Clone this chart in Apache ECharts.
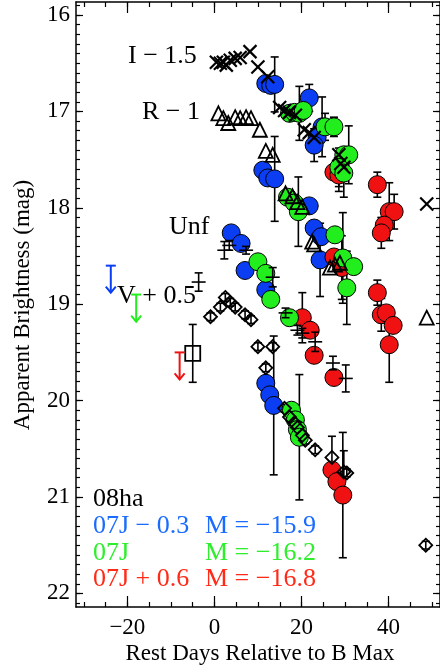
<!DOCTYPE html>
<html>
<head>
<meta charset="utf-8">
<script src="https://cdn.jsdelivr.net/npm/echarts@6/dist/echarts.min.js"></script>
<style>
html, body { margin: 0; padding: 0; background: #fff; }
#chart { width: 440px; height: 672px; }
</style>
</head>
<body>
<div id="chart"></div>
<script>
// SN 2008ha light curves (rest days from B max, apparent mag), offsets as labelled
const iMinus15 = [ // I - 1.5
  [0.45,16.49],[1.36,16.50],[2.04,16.49],[2.72,16.52],[3.63,16.47],[4.76,16.45],[5.90,16.44],
  [8.16,16.38],[9.98,16.54],[12.24,16.64],[14.97,16.96],[16.10,16.99],[17.23,17.01],[18.59,17.04],
  [20.63,17.19],[21.77,17.22],[22.90,17.27],[28.57,17.45],[29.02,17.54],[29.71,17.58],[48.75,17.96]
];
const rMinus1 = [ // R - 1
  [0.91,17.02],[2.04,17.07],[3.17,17.12],[4.76,17.06],[5.90,17.07],[7.26,17.06],[8.39,17.07],
  [10.43,17.19],[11.79,17.41],[13.38,17.45],[16.33,17.85],[17.91,17.88],[19.05,17.94],[20.18,17.99],
  [22.45,18.35],[22.90,18.38],[26.53,18.62],[27.66,18.59],[28.80,18.57],[48.75,19.14]
];
const unfiltered = [ // [day, mag, err]
  [2.27,18.44,0.09],[3.40,18.39,0.05],[7.26,18.44,0.04],[13.38,18.72,0.10],[16.33,19.09,0.05],
  [19.05,19.27,0.05],[20.18,19.30,0.05],[23.13,19.39,0.10],[27.21,19.61,0.07],[30.16,19.77,0.14]
];
const vPlus05 = [ // V + 0.5, [day, mag, err]
  [-0.91,19.13,0.04],[1.36,19.03,0.04],[2.49,18.93,0.04],[3.63,18.98,0.04],[4.76,19.03,0.04],
  [7.03,19.11,0.04],[8.39,19.16,0.04],[9.98,19.44,0.04],[13.38,19.44,0.04],[11.79,19.66,0.04],
  [16.10,20.08,0.04],[17.23,20.17,0.04],[18.37,20.23,0.04],[19.05,20.28,0.04],[20.18,20.36,0.04],
  [20.86,20.41,0.04],[23.13,20.51,0.04],[26.98,20.59,0.22],[29.71,20.74,0.22],[30.39,20.75,0.04],
  [48.53,21.50,0.04]
];
const vCross = [[-3.63,18.77,0.095]];
const vSquare = [[-4.99,19.51,0.30]];

// SN 2007J comparison points, [day, mag, err]
const j07Minus03 = [
  [11.79,16.71,0],[12.93,16.73,0],[13.83,16.72,0.285],[21.77,16.86,0.14],[24.72,17.16,0.31],
  [23.58,17.27,0],[22.90,17.35,0.17],[11.11,17.61,0],[12.24,17.69,0],[13.83,17.70,0.44],
  [21.77,17.98,0],[22.90,18.21,0],[24.49,18.30,0],[24.26,18.54,0.38],[3.85,18.26,0],
  [6.12,18.37,0],[7.03,18.65,0],[11.79,18.85,0],[11.79,19.82,0],[12.70,19.94,0],[13.61,20.05,0.72]
];
const j07 = [
  [17.23,17.02,0],[18.37,17.01,0],[19.50,17.02,0.28],[20.41,16.99,0],[25.40,17.16,0.14],
  [27.44,17.16,0.10],[29.71,17.45,0],[30.84,17.45,0.30],[28.57,17.58,0.20],[29.71,17.64,0.25],
  [16.78,17.89,0],[18.37,17.95,0],[19.27,18.04,0.36],[27.66,18.28,0],[29.48,18.52,0.47],
  [31.97,18.61,0],[30.39,18.83,0.38],[9.98,18.56,0],[11.79,18.68,0],[12.93,18.95,0],
  [17.23,19.14,0],[17.69,20.10,0],[18.59,20.20,0],[19.05,20.30,0],[19.50,20.38,0.65]
];
const j07Plus06 = [
  [27.44,17.63,0],[28.57,17.66,0.17],[37.41,17.76,0.13],[40.14,18.04,0.30],[41.27,18.04,0.18],
  [39.00,18.18,0],[38.32,18.26,0.16],[27.44,18.51,0],[29.25,18.62,0.33],[37.41,18.88,0.13],
  [38.32,19.11,0.17],[39.46,19.09,0],[41.04,19.22,0],[40.14,19.42,0.39],[20.18,19.14,0.26],
  [21.99,19.27,0],[22.90,19.53,0],[27.44,19.76,0],[26.98,20.72,0],[28.12,20.84,0],[29.48,20.98,0.65]
];

// pre-maximum upper limits
const limitBlue = [[-23.81,18.60]];
const limitGreen = [[-17.98,18.90]];
const limitRed = [[-8.00,19.50]];

// axis ticks
const xMajor = [-20, 0, 20, 40];
const yMajor = [16, 17, 18, 19, 20, 21, 22];
const X_MIN = -31.8, X_MAX = 51.8, Y_MIN = 15.865, Y_MAX = 22.141;

const xMinor = [];
for (let v = -30; v <= 50; v += 5) xMinor.push(v);
const yMinor = [];
for (let k = 159; k <= 221; k++) yMinor.push(k / 10);

const BLUE = '#0b3ef2', GREEN = '#22ee1e', RED = '#f01212';
const FONT = '"Liberation Serif", "DejaVu Serif", serif';

const minusFmt = v => (v < 0 ? '\u2212' + Math.abs(v) : String(v));

function errItem(api, x, y, e, w) {
  const a = api.coord([x, y - e]), b = api.coord([x, y + e]);
  const st = { stroke: '#000', lineWidth: 1.6 };
  return [
    { type: 'line', shape: { x1: a[0], y1: a[1], x2: b[0], y2: b[1] }, style: st },
    { type: 'line', shape: { x1: a[0] - w, y1: a[1], x2: a[0] + w, y2: a[1] }, style: st },
    { type: 'line', shape: { x1: b[0] - w, y1: b[1], x2: b[0] + w, y2: b[1] }, style: st }
  ];
}

function renderErr(params, api) {
  return { type: 'group', children: errItem(api, api.value(0), api.value(1), api.value(2), 4) };
}

function renderCross(params, api) {
  const p = api.coord([api.value(0), api.value(1)]);
  const s = 6.5, st = { stroke: '#000', lineWidth: 2.2 };
  return { type: 'group', children: [
    { type: 'line', shape: { x1: p[0] - s, y1: p[1] - s, x2: p[0] + s, y2: p[1] + s }, style: st },
    { type: 'line', shape: { x1: p[0] - s, y1: p[1] + s, x2: p[0] + s, y2: p[1] - s }, style: st }
  ] };
}

function renderPlus(params, api) {
  const p = api.coord([api.value(0), api.value(1)]);
  const kids = errItem(api, api.value(0), api.value(1), api.value(2), 4);
  kids.push({ type: 'line', shape: { x1: p[0] - 7, y1: p[1], x2: p[0] + 7, y2: p[1] },
    style: { stroke: '#000', lineWidth: 1.6 } });
  return { type: 'group', children: kids };
}

function limitRenderer(color) {
  return function (params, api) {
    const p = api.coord([api.value(0), api.value(1)]);
    const st = { stroke: color, lineWidth: 2, fill: null };
    const len = 27;
    return { type: 'group', children: [
      { type: 'line', shape: { x1: p[0] - 5, y1: p[1], x2: p[0] + 5, y2: p[1] }, style: st },
      { type: 'line', shape: { x1: p[0], y1: p[1], x2: p[0], y2: p[1] + len }, style: st },
      { type: 'polyline', shape: { points: [[p[0] - 5, p[1] + len - 6], [p[0], p[1] + len], [p[0] + 5, p[1] + len - 6]] }, style: st }
    ] };
  };
}

const withErr = arr => arr.filter(d => d[2] > 0);

function axisX(gridIndex, position, ticks, len, labels) {
  return {
    type: 'value', gridIndex, position, min: X_MIN, max: X_MAX,
    axisLine: { show: gridIndex === 0, onZero: false, lineStyle: { color: '#000', width: 1.5 } },
    axisTick: { show: true, inside: true, length: len, customValues: ticks, lineStyle: { color: '#000', width: 1.2 } },
    axisLabel: labels ? { show: true, customValues: ticks, formatter: minusFmt, fontFamily: FONT, fontSize: 23, color: '#000', margin: 9 } : { show: false },
    splitLine: { show: false }
  };
}
function axisY(gridIndex, position, ticks, len, labels) {
  return {
    type: 'value', gridIndex, position, min: Y_MIN, max: Y_MAX, inverse: true,
    axisLine: { show: gridIndex === 0, onZero: false, lineStyle: { color: '#000', width: 1.5 } },
    axisTick: { show: true, inside: true, length: len, customValues: ticks, lineStyle: { color: '#000', width: 1.2 } },
    axisLabel: labels ? { show: true, customValues: ticks, formatter: v => String(v), fontFamily: FONT, fontSize: 23, color: '#000', margin: 6 } : { show: false },
    splitLine: { show: false }
  };
}

const gridRect = { left: 76, top: 2, width: 368.5, height: 605 };

function circles(data, color, z) {
  return { type: 'scatter', data, xAxisIndex: 0, yAxisIndex: 0, symbol: 'circle', symbolSize: 18, z,
    encode: { x: 0, y: 1 },
    itemStyle: { color, borderColor: '#000', borderWidth: 1, opacity: 1 } };
}
function openMarks(data, symbol, size, z) {
  return { type: 'scatter', data, xAxisIndex: 0, yAxisIndex: 0, symbol, symbolSize: size, z,
    encode: { x: 0, y: 1 },
    itemStyle: { color: 'rgba(255,255,255,0)', borderColor: '#000', borderWidth: 1.8, opacity: 1 } };
}
function customSeries(data, renderItem, z) {
  return { type: 'custom', data, xAxisIndex: 0, yAxisIndex: 0, renderItem, z, encode: { x: 0, y: 1 } };
}

const textStyle = (text, x, y, color, size, extra) => Object.assign({
  type: 'text', x, y,
  style: { text, fill: color, font: size + 'px ' + FONT, textAlign: 'left', textVerticalAlign: 'middle' }
}, extra || {});

const chart = echarts.init(document.getElementById('chart'), null, { renderer: 'canvas' });
chart.setOption({
  animation: false,
  backgroundColor: '#fff',
  grid: [Object.assign({}, gridRect), Object.assign({}, gridRect)],
  xAxis: [
    axisX(0, 'bottom', xMajor, 11, true),
    axisX(0, 'top', xMajor, 11, false),
    axisX(1, 'bottom', xMinor, 5, false),
    axisX(1, 'top', xMinor, 5, false)
  ],
  yAxis: [
    axisY(0, 'left', yMajor, 7, true),
    axisY(0, 'right', yMajor, 7, false),
    axisY(1, 'left', yMinor, 4, false),
    axisY(1, 'right', yMinor, 4, false)
  ],
  series: [
    customSeries(withErr(j07Minus03), renderErr, 2),
    customSeries(withErr(j07), renderErr, 2),
    customSeries(withErr(j07Plus06), renderErr, 2),
    customSeries(vPlus05, renderErr, 2),
    customSeries(vSquare, renderErr, 2),
    circles(j07Minus03, BLUE, 3),
    circles(j07Plus06, RED, 4),
    circles(j07, GREEN, 5),
    openMarks(rMinus1, 'triangle', 14, 6),
    openMarks(vPlus05, 'diamond', 13, 6),
    openMarks(vSquare, 'rect', 15, 6),
    customSeries(iMinus15, renderCross, 7),
    customSeries(unfiltered, renderPlus, 7),
    customSeries(vCross, renderPlus, 7),
    customSeries(limitBlue, limitRenderer(BLUE), 7),
    customSeries(limitGreen, limitRenderer(GREEN), 7),
    customSeries(limitRed, limitRenderer(RED), 7)
  ],
  graphic: [
    textStyle('I \u2212 1.5', 128, 56, '#000', 26),
    textStyle('R \u2212 1', 142, 112, '#000', 26),
    textStyle('Unf', 169, 227, '#000', 26),
    textStyle('V + 0.5', 117, 296, '#000', 26),
    textStyle('08ha', 93, 499, '#000', 26),
    textStyle('07J \u2212 0.3', 93, 526, '#1a6cff', 26),
    textStyle('M = \u221215.9', 205, 526, '#1a6cff', 26),
    textStyle('07J', 93, 553, '#2eee2e', 26),
    textStyle('M = \u221216.2', 205, 553, '#2eee2e', 26),
    textStyle('07J + 0.6', 93, 579, '#ff2a18', 26),
    textStyle('M = \u221216.8', 205, 579, '#ff2a18', 26),
    { type: 'text', x: 260, y: 654,
      style: { text: 'Rest Days Relative to B Max', fill: '#000', font: '23px ' + FONT, textAlign: 'center', textVerticalAlign: 'middle' } },
    { type: 'text', x: 23, y: 305, rotation: Math.PI / 2,
      style: { text: 'Apparent Brightness (mag)', fill: '#000', font: '23px ' + FONT, textAlign: 'center', textVerticalAlign: 'middle' } }
  ]
});
</script>
</body>
</html>
